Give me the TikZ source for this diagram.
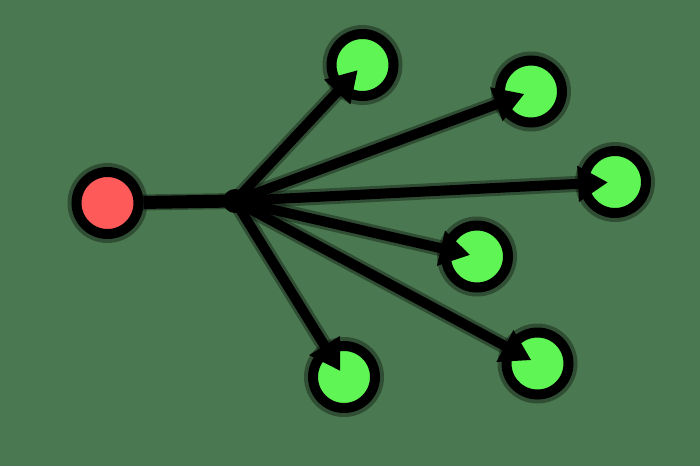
\documentclass[tikz,border=0pt]{standalone}
\usetikzlibrary{arrows.meta,calc}
\definecolor{bg}{RGB}{74,120,80}
\definecolor{leaf}{RGB}{95,245,85}
\definecolor{root}{RGB}{255,90,90}
\begin{document}
\begin{tikzpicture}[x=1pt,y=-1pt,
  dot/.style={circle,draw=black,line width=10pt,minimum size=62pt,inner sep=0pt},
  halo/.style={circle,fill=black,fill opacity=0.35,minimum size=80pt,inner sep=0pt},
  trunk/.style={line width=13pt,black},
  branch/.style={line width=10pt,black,-{Triangle[length=30pt,width=34pt]}},
  branchhalo/.style={line width=16pt,black,opacity=0.35}]
\fill[bg] (0,0) rectangle (700,466);
\useasboundingbox (0,0) rectangle (700,466);
\coordinate (h) at (235,201);
\coordinate (pr) at (107.5,203);
\coordinate (p1) at (362.5,65);
\coordinate (p2) at (531,91.5);
\coordinate (p3) at (615,182);
\coordinate (p4) at (477,256.5);
\coordinate (p5) at (537.5,363.5);
\coordinate (p6) at (344,377);
% soft halo
\foreach \p in {pr,p1,p2,p3,p4,p5,p6}{\node[halo] at (\p) {};}
\draw[branchhalo] (pr) -- (h);
\foreach \p in {p1,p2,p3,p4,p5,p6}{\draw[branchhalo] (h) -- ($(\p)!30pt!(h)$);}
\node[dot,fill=root] (r) at (pr) {};
\node[dot,fill=leaf] (g1) at (p1) {};
\node[dot,fill=leaf] (g2) at (p2) {};
\node[dot,fill=leaf] (g3) at (p3) {};
\node[dot,fill=leaf] (g4) at (p4) {};
\node[dot,fill=leaf] (g5) at (p5) {};
\node[dot,fill=leaf] (g6) at (p6) {};
\draw[trunk] (r) -- (h);
\fill[black] (h) circle (12pt);
\foreach \g in {g1,g2,g3,g4,g5,g6}{\draw[branch] (h) -- ($(\g.center)!7pt!(h)$);}
\end{tikzpicture}
\end{document}
